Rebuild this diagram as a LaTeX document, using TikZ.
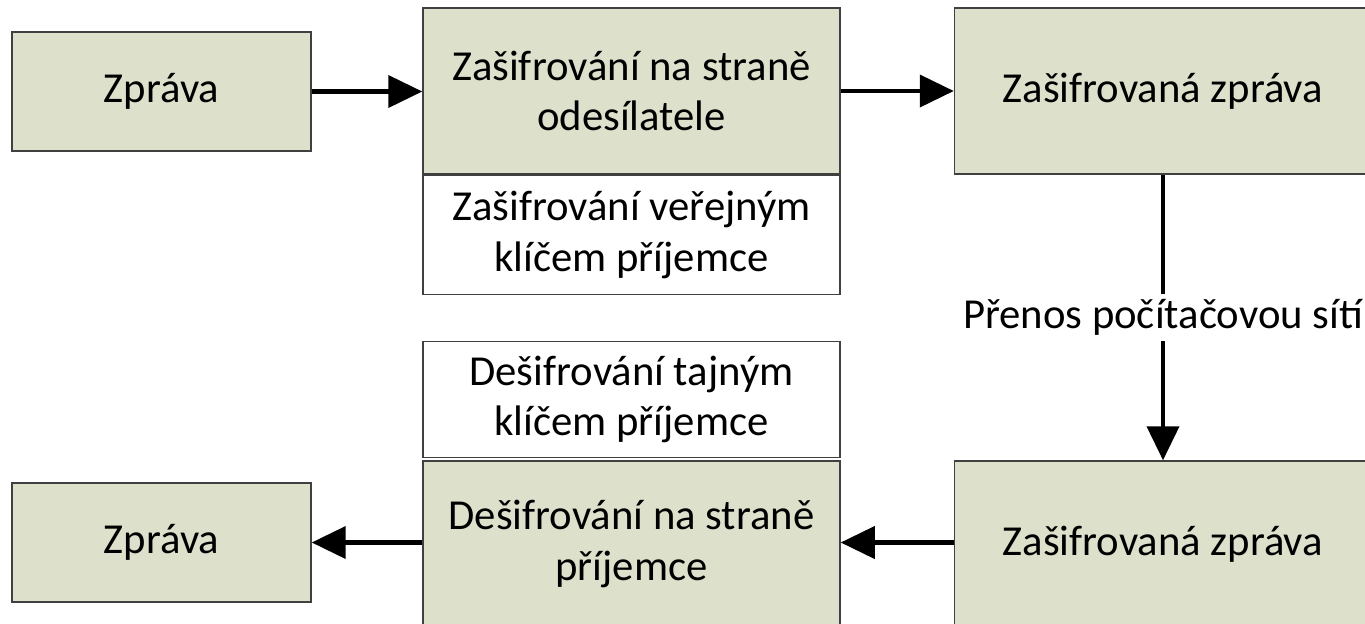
\documentclass[tikz,border=0pt]{standalone}
\usepackage{fontspec}
\setmainfont{Carlito}
\usetikzlibrary{arrows.meta}

\definecolor{boxgreen}{RGB}{221,224,203}
\definecolor{boxline}{RGB}{64,64,64}

\tikzset{
  msgbox/.style={draw=boxline,line width=0.85pt,fill=boxgreen,align=center,
    minimum width=5.98cm,minimum height=2.38cm,inner sep=0pt},
  stagebox/.style={draw=boxline,line width=0.85pt,fill=boxgreen,align=center,
    minimum width=8.34cm,minimum height=3.32cm,inner sep=0pt},
  keybox/.style={draw=boxline,line width=0.85pt,fill=white,align=center,
    minimum width=8.34cm,inner sep=0pt},
  flow/.style={line width=2.3pt,-{Triangle[length=0.68cm,width=0.64cm]}}
}

\begin{document}
\begin{tikzpicture}[font=\fontsize{24.3}{28.5}\selectfont]
  \useasboundingbox (0,0) rectangle (27.3,-12.46);
  % odesilatel
  \node[msgbox] (zin) at (3.23,-1.83) {Zpráva};
  \node[stagebox] (enc) at (12.63,-1.82) {Zašifrování na straně\\odesílatele};
  \node[keybox,minimum height=2.38cm,anchor=north] (enckey) at (enc.south)
    {Zašifrování veřejným\\klíčem příjemce};
  \node[stagebox] (ctop) at (23.26,-1.82) {Zašifrovaná zpráva};
  % prijemce
  \node[stagebox] (cbot) at (23.26,-10.88) {Zašifrovaná zpráva};
  \node[stagebox] (dec) at (12.63,-10.88) {Dešifrování na straně\\příjemce};
  \node[keybox,minimum height=2.32cm,anchor=south] (deckey) at ([yshift=0.04cm]dec.north)
    {Dešifrování tajným\\klíčem příjemce};
  \node[msgbox] (zout) at (3.23,-10.85) {Zpráva};
  % sipky
  \draw[flow] (zin) -- (zin -| enc.west);
  \draw[flow] (enc.east |- ctop) -- (ctop);
  \draw[flow] (ctop) -- node[fill=white,inner sep=3pt] (net) {Přenos počítačovou sítí} (cbot);
  \draw[flow] (cbot.west |- zout) -- (dec.east |- zout);
  \draw[flow] (dec.west |- zout) -- (zout);
\end{tikzpicture}
\end{document}
